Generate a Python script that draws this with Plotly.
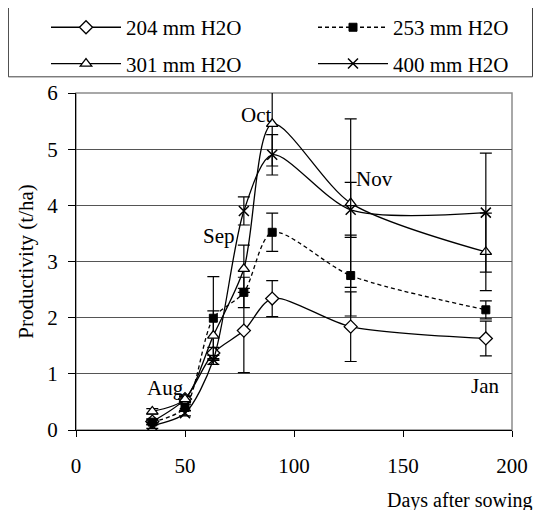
import plotly.graph_objects as go

# ---- data ----
days = [35, 50, 63, 77, 90, 126, 188]

y204 = [0.15, 0.55, 1.37, 1.77, 2.34, 1.84, 1.63]
e204 = [0.05, 0.06, 0.10, 0.75, 0.32, 0.62, 0.31]

y253 = [0.14, 0.40, 1.99, 2.45, 3.52, 2.75, 2.14]
e253 = [0.05, 0.06, 0.74, 0.27, 0.34, 0.72, 0.16]

y301 = [0.33, 0.55, 1.68, 2.87, 5.45, 4.04, 3.17]
e301 = [0.05, 0.05, 0.44, 0.42, 0.75, 1.50, 0.69]

y400 = [0.08, 0.30, 1.25, 3.90, 4.90, 3.92, 3.87]
e400 = [0.05, 0.05, 0.08, 0.25, 0.36, 0.49, 1.06]

series_names = ["204 mm H2O", "253 mm H2O", "301 mm H2O", "400 mm H2O"]

month_labels = ["Aug", "Sep", "Oct", "Nov", "Jan"]
month_x = [41, 65.7, 82.5, 136.8, 187.8]
month_y = [0.75, 3.45, 5.61, 4.47, 0.78]

x_ticks = [0, 50, 100, 150, 200]
y_ticks = [0, 1, 2, 3, 4, 5, 6]

FONT = "Liberation Serif"
FS = 21
# page body has an 8px margin, so the figure is 8px smaller than the window
W, H = 533, 502

fig = go.Figure()

specs = [
    (y204, e204, series_names[0], dict(symbol="diamond", size=10, color="white", line=dict(color="black", width=1.3)), "solid", "legend"),
    (y253, e253, series_names[1], dict(symbol="square", size=8, color="black", line=dict(color="black", width=1)), "4px,3px", "legend2"),
    (y301, e301, series_names[2], dict(symbol="triangle-up", size=10, color="white", line=dict(color="black", width=1.3)), "solid", "legend3"),
    (y400, e400, series_names[3], dict(symbol="x-thin", size=10, color="black", line=dict(color="black", width=1.5)), "solid", "legend4"),
]

for yv, ev, name, marker, dash, leg in specs:
    fig.add_trace(go.Scatter(
        x=days, y=yv, name=name, mode="lines+markers",
        line=dict(color="black", width=1.3, dash=dash, shape="spline", smoothing=0.8),
        marker=marker,
        error_y=dict(type="data", array=ev, visible=True, color="black", thickness=1.2, width=6),
        legend=leg,
        cliponaxis=False,
    ))

for lab, mx, my in zip(month_labels, month_x, month_y):
    fig.add_annotation(x=mx, y=my, text=lab, showarrow=False,
                       font=dict(family=FONT, size=FS, color="black"))

# x-axis title at lower right
fig.add_annotation(xref="paper", yref="paper", x=1.052, y=-0.208,
                   xanchor="right", yanchor="middle", text="Days after sowing",
                   showarrow=False, font=dict(family=FONT, size=20, color="black"))

# legend frame
fig.add_shape(type="rect", xref="paper", yref="paper",
              x0=-0.155, x1=1.047, y0=1.048, y1=1.259,
              line=dict(color="#404040", width=1), fillcolor="white", layer="below")
# plot-area frame (gray top / right)
fig.add_shape(type="rect", xref="paper", yref="paper", x0=0, x1=1, y0=0, y1=1,
              line=dict(color="#8c8c8c", width=1.5), layer="below")


def leg(px_x, px_y):
    return dict(xref="container", yref="container", x=px_x / W, y=1 - px_y / H,
                xanchor="left", yanchor="middle", orientation="h",
                bgcolor="rgba(0,0,0,0)", borderwidth=0, itemwidth=70,
                font=dict(family=FONT, size=FS, color="black"))


fig.update_layout(
    width=W, height=H,
    margin=dict(l=68, r=29, t=85, b=80, autoexpand=False),
    paper_bgcolor="white", plot_bgcolor="white",
    font=dict(family=FONT, size=FS, color="black"),
    showlegend=True,
    legend=leg(38, 19.6),
    legend2=leg(305, 19.6),
    legend3=leg(38, 55.9),
    legend4=leg(305, 55.9),
    xaxis=dict(range=[0, 200], tickvals=x_ticks, showgrid=False, zeroline=False,
               showline=True, linecolor="black", linewidth=1.3, automargin=False,
               ticks="outside", ticklen=6, tickcolor="black", ticklabelstandoff=11,
               tickfont=dict(family=FONT, size=FS, color="black")),
    yaxis=dict(range=[0, 6], tickvals=y_ticks, showgrid=True, gridcolor="#555555", gridwidth=1,
               zeroline=False, showline=True, linecolor="black", linewidth=1.3, automargin=False,
               ticks="outside", ticklen=7, tickcolor="black", ticklabelstandoff=6,
               tickfont=dict(family=FONT, size=FS, color="black"),
               title=dict(text="Productivity (t/ha)", standoff=7,
                          font=dict(family=FONT, size=FS, color="black"))),
)

fig.write_html("out.html")
